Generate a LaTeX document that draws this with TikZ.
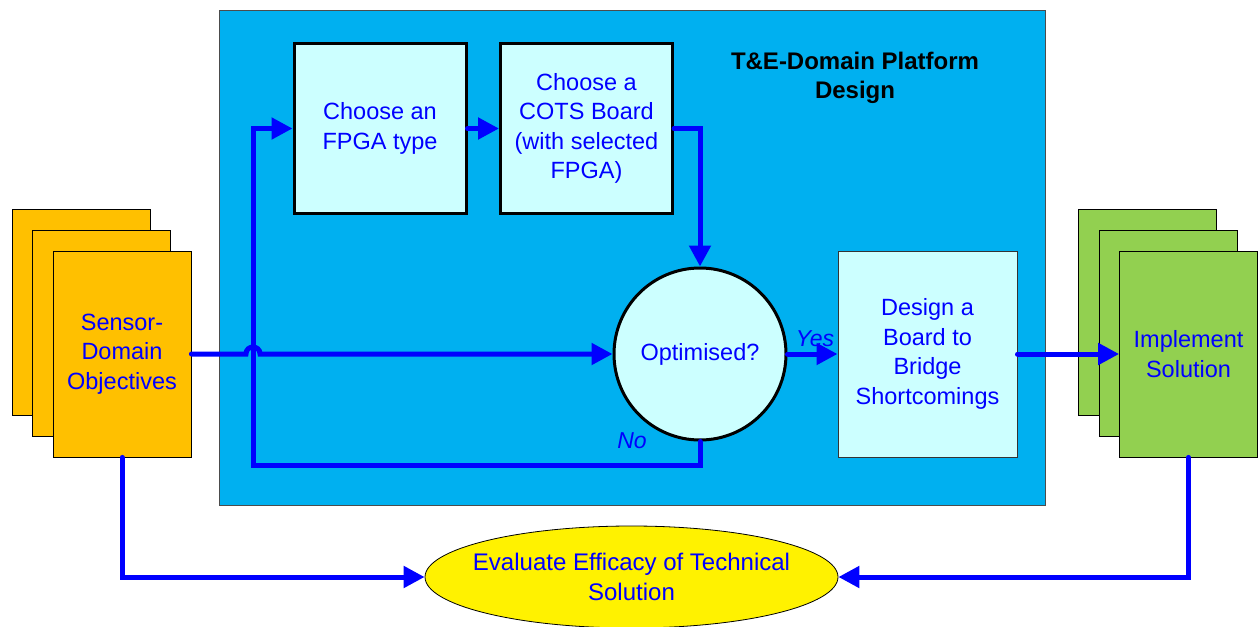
\documentclass[tikz,border=0pt]{standalone}
\usepackage{fontspec}
\setmainfont{Liberation Sans}
\usetikzlibrary{arrows.meta,shapes.geometric}
\definecolor{bigblue}{HTML}{00B0F0}
\definecolor{pale}{HTML}{CCFFFF}
\definecolor{gold}{HTML}{FFC000}
\definecolor{lgreen}{HTML}{92D050}
\definecolor{flowblue}{HTML}{0000FF}
\begin{document}
\begin{tikzpicture}[x=1pt,y=-1pt,
  txt/.style={font=\fontsize{23.5}{29.5}\selectfont, text=flowblue, align=center},
  thickbox/.style={txt, draw=black, line width=3pt, fill=pale, minimum width=172, minimum height=169, inner sep=0},
  page/.style={draw=black, line width=0.8pt, minimum width=138, minimum height=206, inner sep=0},
  lbl/.style={text=flowblue, font=\fontsize{23}{28}\selectfont\itshape, inner sep=0},
  flow/.style={draw=flowblue, line width=5pt, line cap=round, line join=miter, -{Triangle[length=21pt,width=21pt]}},
]
\useasboundingbox (0,0) rectangle (1260,626);
\clip (0,0) rectangle (1260,626);
% platform
\node[draw=black!70, line width=0.8pt, fill=bigblue, minimum width=826, minimum height=495, anchor=north west, inner sep=0] (plat) at (219,10) {};
\node[font=\fontsize{24}{29}\selectfont\bfseries, align=center, text=black] (title) at (855,78) {T\&E-Domain Platform\\Design};
% boxes
\node[thickbox] (fpga) at (380,128.5) {Choose an\\FPGA type};
\node[thickbox] (cots) at (586.5,128.5) {Choose a\\COTS Board\\(with selected\\FPGA)};
\node[circle, draw=black, line width=3pt, fill=pale, minimum size=172, inner sep=0, txt] (opt) at (700,354) {Optimised?};
\node[txt, draw=black!80, line width=1pt, fill=pale, minimum width=179, minimum height=206, inner sep=0] (design) at (927.5,354) {Design a\\Board to\\Bridge\\Shortcomings};
% sensor pages
\node[page, fill=gold] (s3) at (81,312) {};
\node[page, fill=gold] (s2) at (101.5,333) {};
\node[page, fill=gold, txt] (sens) at (122,354) {Sensor-\\Domain\\Objectives};
% implement pages
\node[page, fill=lgreen] (i3) at (1147.5,312) {};
\node[page, fill=lgreen] (i2) at (1168,333) {};
\node[page, fill=lgreen, txt] (impl) at (1188.5,354) {Implement\\Solution};
% evaluate
\node[ellipse, draw=black, line width=0.8pt, fill=yellow, minimum width=413, minimum height=102, inner xsep=-14pt, inner ysep=0pt, txt, font=\fontsize{24}{29.5}\selectfont] (eval) at (631.5,577) {Evaluate Efficacy of Technical\\Solution};
% coordinates
\coordinate (nb) at (700,465);
\coordinate (nl) at (253,465);
\coordinate (nt) at (253,128.5);
\coordinate (j1) at (246,354);
\coordinate (j2) at (260,354);
\coordinate (cc) at (700,128.5);
\coordinate (sb) at (122,577);
\coordinate (ib) at (1188.5,577);
% connectors
\draw[flow] (sens.east) -- (j1) .. controls +(0,-9.3) and +(0,-9.3) .. (j2) -- (opt.west);
\draw[flow] (opt.south) -- (nb) -- (nl) -- (nt) -- (fpga.west);
\draw[flow] (fpga.east) -- (cots.west);
\draw[flow] (cots.east) -- (cc) -- (opt.north);
\draw[flow] (opt.east) -- (design.west);
\draw[flow] (design.east) -- (impl.west);
\draw[flow] (sens.south) -- (sb) -- (eval.west);
\draw[flow] (impl.south) -- (ib) -- (eval.east);
% labels
\node[lbl] (yes) at (815,339) {Yes};
\node[lbl] (no) at (632,441) {No};
\end{tikzpicture}
\end{document}
